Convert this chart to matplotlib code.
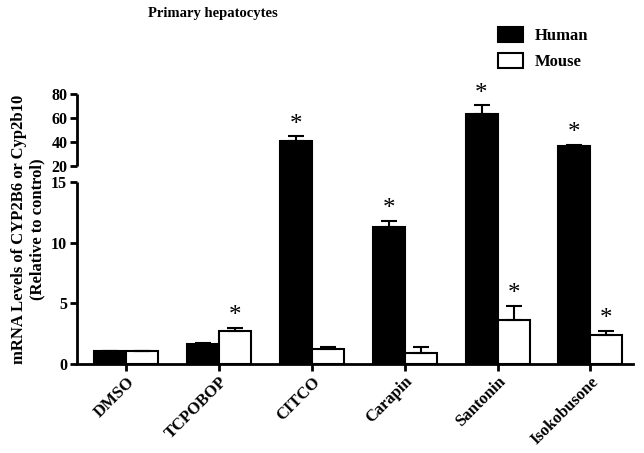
import numpy as np
import matplotlib
matplotlib.use("Agg")
import matplotlib.pyplot as plt

# data
treatments = ["DMSO", "TCPOBOP", "CITCO", "Carapin", "Santonin", "Isokobusone"]
human = [1.05, 1.65, 40.8, 11.3, 63.0, 36.3]
human_err = [0.0, 0.1, 4.0, 0.5, 7.5, 1.2]
mouse = [1.05, 2.75, 1.2, 0.93, 3.63, 2.36]
mouse_err = [0.0, 0.25, 0.22, 0.5, 1.15, 0.36]
human_star = [False, False, True, True, True, True]
mouse_star = [False, True, False, False, True, True]
yticks = [0, 5, 10, 15, 20, 40, 60, 80]

# broken axis: 0-15 linear, short gap 15-20, compressed 20-80
GAP = 0.2638
TOP = 0.0989


def fwd(v):
    v = np.asarray(v, dtype=float)
    return np.where(v <= 15, v,
                    np.where(v <= 20, 15 + (v - 15) * GAP,
                             15 + 5 * GAP + (v - 20) * TOP))


def inv(s):
    s = np.asarray(s, dtype=float)
    b = 15 + 5 * GAP
    return np.where(s <= 15, s,
                    np.where(s <= b, 15 + (s - 15) / GAP,
                             20 + (s - b) / TOP))


plt.rcParams["font.family"] = ["Liberation Serif", "DejaVu Serif"]
plt.rcParams["font.weight"] = "bold"

fig = plt.figure(figsize=(6.44, 4.53), dpi=100)
ax = fig.add_axes([0.1196, 0.1965, 0.8634, 0.596])
ax.set_yscale("function", functions=(fwd, inv))

x = np.arange(len(treatments))
w = 0.345
ax.bar(x - w / 2, human, w, color="black", edgecolor="black", lw=1.5,
       label="Human", zorder=2)
ax.bar(x + w / 2, mouse, w, color="white", edgecolor="black", lw=1.5,
       label="Mouse", zorder=2)
zeros = np.zeros(len(x))
ax.errorbar(x - w / 2, human, yerr=[zeros, human_err], fmt="none",
            ecolor="black", elinewidth=1.5, capsize=6, capthick=1.5, zorder=3)
ax.errorbar(x + w / 2, mouse, yerr=[zeros, mouse_err], fmt="none",
            ecolor="black", elinewidth=1.5, capsize=6, capthick=1.5, zorder=3)

for i in range(len(x)):
    if human_star[i]:
        ax.annotate("*", (x[i] - w / 2, human[i] + human_err[i]),
                    xytext=(0, 0.5), textcoords="offset points",
                    ha="center", va="bottom", fontsize=18, fontweight="normal")
    if mouse_star[i]:
        ax.annotate("*", (x[i] + w / 2, mouse[i] + mouse_err[i]),
                    xytext=(0, 0.5), textcoords="offset points",
                    ha="center", va="bottom", fontsize=18, fontweight="normal")

ax.set_xlim(-0.53, 5.46)
ax.set_ylim(0, 80)
ax.set_yticks(yticks)
ax.set_yticklabels([str(t) for t in yticks], fontsize=11.5, fontweight="bold")
ax.minorticks_off()
ax.set_xticks(x)
ax.set_xticklabels(treatments, rotation=45, ha="right", rotation_mode="anchor",
                   fontsize=12, fontweight="bold")

for side in ["top", "right", "left"]:
    ax.spines[side].set_visible(False)
ax.spines["bottom"].set_linewidth(2)
# left spine in two pieces
yt = ax.get_yaxis_transform()
ax.plot([0, 0], [0, 15], color="black", lw=2, transform=yt, clip_on=False,
        solid_capstyle="butt")
ax.plot([0, 0], [20, 80], color="black", lw=2, transform=yt, clip_on=False,
        solid_capstyle="butt")
ax.tick_params(axis="both", direction="out", length=5, width=2, pad=2)

ax.set_ylabel("mRNA Levels of CYP2B6 or Cyp2b10\n(Relative to control)",
              fontsize=12, fontweight="bold", labelpad=4)

fig.text(0.33, 0.97, "Primary hepatocytes", ha="center", va="center",
         fontsize=10.5, fontweight="bold")
ax.legend(loc="upper left", bbox_to_anchor=(0.73, 1.305), frameon=False,
          fontsize=12, handlelength=1.5, handleheight=1.0, labelspacing=0.55,
          handletextpad=0.7)

fig.savefig("out.png", dpi=100)
